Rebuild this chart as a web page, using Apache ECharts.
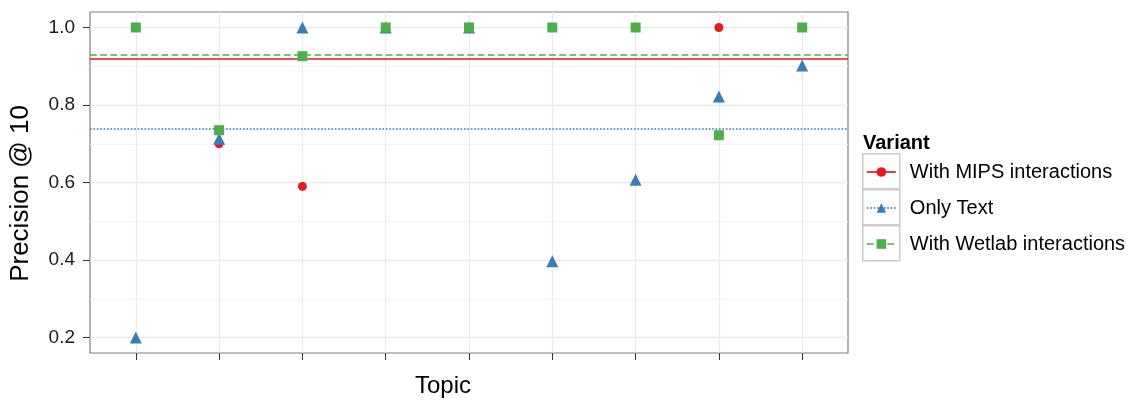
<!DOCTYPE html>
<html>
<head>
<meta charset="utf-8">
<script src="https://cdn.jsdelivr.net/npm/echarts@6/dist/echarts.min.js"></script>
<style>
html, body { margin: 0; padding: 0; background: #fff; }
#main { width: 1130px; height: 402px; }
</style>
</head>
<body>
<div id="main"></div>
<script>
// data
var topics = [1, 2, 3, 4, 5, 6, 7, 8, 9];
var mipsValues = [1.0, 0.70, 0.59, 1.0, 1.0, 1.0, 1.0, 1.0, 1.0];
var textValues = [0.2, 0.713, 1.0, 1.0, 1.0, 0.397, 0.607, 0.822, 0.902];
var wetlabValues = [1.0, 0.735, 0.926, 1.0, 1.0, 1.0, 1.0, 0.722, 1.0];
var yTicks = [0.2, 0.4, 0.6, 0.8, 1.0];
var yMinorTicks = [0.3, 0.5, 0.7, 0.9];
var seriesNames = ['With MIPS interactions', 'Only Text', 'With Wetlab interactions'];

function pairs(vals) {
    return vals.map(function (v, i) { return [topics[i], v]; });
}
function mean(vals) {
    var s = 0;
    vals.forEach(function (v) { s += v; });
    return s / vals.length;
}

var red = '#E41A1C', blue = '#377EB8', green = '#4DAF4A';
var font = 'Liberation Sans, Arial, sans-serif';

function makeSeries(name, vals, color, symbol, size, lineType, z) {
    return {
        name: name,
        type: 'line',
        data: pairs(vals),
        symbol: symbol,
        symbolSize: size,
        showSymbol: true,
        lineStyle: { width: 0, opacity: 0 },
        itemStyle: { color: color },
        z: z,
        animation: false,
        markLine: {
            silent: true,
            symbol: 'none',
            label: { show: false },
            lineStyle: { color: color, type: lineType, width: 1.7 },
            data: [{ yAxis: mean(vals) }]
        }
    };
}

// grey boxes round the legend keys, like ggplot's legend.key
function keyBox(top) {
    return {
        type: 'rect', left: 862, top: top, z: 1,
        shape: { width: 37, height: 35 },
        style: { fill: '#fff', stroke: '#cccccc', lineWidth: 1.5 }
    };
}

var chart = echarts.init(document.getElementById('main'));
chart.setOption({
    animation: false,
    grid: {
        left: 90, right: 282, top: 12, bottom: 49,
        outerBoundsMode: 'none',
        containLabel: false,
        show: true, borderColor: '#7f7f7f', borderWidth: 1.2, backgroundColor: '#fff'
    },
    title: {
        text: 'Variant',
        left: 858, top: 128,
        textStyle: { fontFamily: font, fontSize: 20, fontWeight: 'bold', color: '#000' }
    },
    graphic: [keyBox(153), keyBox(189), keyBox(225)],
    legend: {
        orient: 'vertical',
        left: 861, top: 156,
        z: 5,
        itemWidth: 29, itemHeight: 12, itemGap: 14,
        textStyle: { fontFamily: font, fontSize: 20, lineHeight: 22, color: '#000', padding: [0, 0, 0, 9] },
        data: [
            { name: seriesNames[0], lineStyle: { width: 1.7, opacity: 1, type: 'solid', color: red } },
            { name: seriesNames[1], lineStyle: { width: 1.7, opacity: 1, type: 'dotted', color: blue } },
            { name: seriesNames[2], lineStyle: { width: 1.7, opacity: 1, type: 'dashed', color: green } }
        ]
    },
    xAxis: {
        type: 'value',
        min: 0.45, max: 9.55,
        name: 'Topic',
        nameLocation: 'middle',
        nameGap: 21,
        nameTextStyle: { fontFamily: font, fontSize: 24, color: '#000', verticalAlign: 'top', padding: [0, 52, 0, 0] },
        axisLine: { show: false },
        axisTick: { show: true, length: 7, customValues: topics, lineStyle: { color: '#333' } },
        axisLabel: { show: false, customValues: topics },
        splitLine: { show: true, lineStyle: { color: '#ebebeb', width: 1.3 } }
    },
    yAxis: [{
        type: 'value',
        min: 0.16, max: 1.04,
        name: 'Precision @ 10',
        nameLocation: 'middle',
        nameGap: 56,
        nameTextStyle: { fontFamily: font, fontSize: 26, color: '#000', padding: [0, 22, 0, 0] },
        axisLine: { show: false },
        axisTick: { show: true, length: 7, customValues: yTicks, lineStyle: { color: '#333' } },
        axisLabel: {
            customValues: yTicks, margin: 15,
            fontFamily: font, fontSize: 19, color: '#1a1a1a',
            formatter: function (v) { return v.toFixed(1); }
        },
        splitLine: { show: true, lineStyle: { color: '#ebebeb', width: 1.3 } }
    }, {
        type: 'value',
        min: 0.16, max: 1.04,
        position: 'left',
        axisLine: { show: false },
        axisTick: { show: false, customValues: yMinorTicks },
        axisLabel: { show: false, customValues: yMinorTicks },
        splitLine: { show: true, lineStyle: { color: '#f5f5f5', width: 1 } }
    }],
    series: [
        makeSeries(seriesNames[0], mipsValues, red, 'circle', 9, 'solid', 3),
        makeSeries(seriesNames[1], textValues, blue, 'triangle', 12, 'dotted', 4),
        makeSeries(seriesNames[2], wetlabValues, green, 'rect', 10, 'dashed', 5)
    ]
});
</script>
</body>
</html>
